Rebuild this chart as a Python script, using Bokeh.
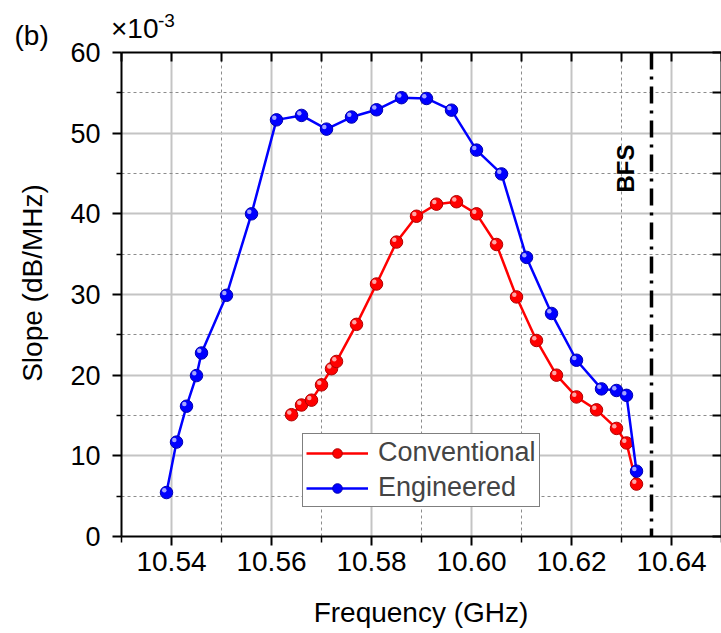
import numpy as np
from bokeh.plotting import figure
from bokeh.models import (LinearAxis, FixedTicker, Range1d, Label, Span, Legend,
                          LegendItem, Grid, NumeralTickFormatter)
from bokeh.embed import file_html
from bokeh.resources import INLINE

# ---- data (slope in units of 1e-3 dB/MHz) ----
freq_conv = [10.564, 10.566, 10.568, 10.570, 10.572, 10.573, 10.577, 10.581, 10.585,
             10.589, 10.593, 10.597, 10.601, 10.605, 10.609, 10.613, 10.617, 10.621,
             10.625, 10.629, 10.631, 10.633]
slope_conv = [15.1, 16.3, 16.9, 18.8, 20.8, 21.7, 26.3, 31.3, 36.5, 39.7, 41.2, 41.5,
              40.0, 36.2, 29.7, 24.3, 20.0, 17.3, 15.7, 13.4, 11.6, 6.5]
freq_eng = [10.539, 10.541, 10.543, 10.545, 10.546, 10.551, 10.556, 10.561, 10.566,
            10.571, 10.576, 10.581, 10.586, 10.591, 10.596, 10.601, 10.606, 10.611,
            10.616, 10.621, 10.626, 10.629, 10.631, 10.633]
slope_eng = [5.45, 11.7, 16.15, 19.95, 22.75, 29.9, 40.0, 51.65, 52.2, 50.5, 52.0, 52.9,
             54.4, 54.3, 52.85, 47.9, 44.95, 34.6, 27.65, 21.85, 18.3, 18.1, 17.5, 8.1]
bfs_freq = 10.636

x_major = [10.54, 10.56, 10.58, 10.60, 10.62, 10.64]
x_minor = [10.53, 10.55, 10.57, 10.59, 10.61, 10.63, 10.65]
y_major = [0, 10, 20, 30, 40, 50, 60]
y_minor = [5, 15, 25, 35, 45, 55]

FONT = "Liberation Sans"
X0, X1, Y0, Y1 = 10.53, 10.65, 0, 60
FW, FH = 600, 484

p = figure(width=721, height=633, output_backend="svg", toolbar_location=None,
           x_range=Range1d(X0, X1), y_range=Range1d(Y0, Y1),
           min_border_left=121, min_border_right=0, min_border_top=52,
           min_border_bottom=97, x_axis_location=None, y_axis_location=None)
p.outline_line_color = None
p.background_fill_color = "white"
p.border_fill_color = "white"

xt = FixedTicker(ticks=x_major, minor_ticks=x_minor)
yt = FixedTicker(ticks=y_major, minor_ticks=y_minor)

for dim, tk in ((0, xt), (1, yt)):
    g = Grid(dimension=dim, ticker=tk, grid_line_color="#c4c4c4", grid_line_width=2,
             minor_grid_line_color="#8c8c8c", minor_grid_line_width=1,
             minor_grid_line_dash="3 3")
    p.add_layout(g)

def base_axis(ax):
    ax.axis_line_color = "black"
    ax.axis_line_width = 2
    ax.major_tick_line_color = "black"
    ax.minor_tick_line_color = "black"
    ax.major_tick_line_width = 2
    ax.minor_tick_line_width = 1.5
    ax.major_label_text_font = FONT
    ax.major_label_text_color = "black"

xb = LinearAxis(ticker=xt, formatter=NumeralTickFormatter(format="0.00"))
base_axis(xb)
xb.major_tick_out, xb.major_tick_in = 9, 0
xb.minor_tick_out, xb.minor_tick_in = 6, 0
xb.major_label_text_font_size = "28px"
xb.major_label_standoff = 6
p.add_layout(xb, "below")

yl = LinearAxis(ticker=yt)
base_axis(yl)
yl.major_tick_out, yl.major_tick_in = 9, 0
yl.minor_tick_out, yl.minor_tick_in = 5, 0
yl.major_label_text_font_size = "27px"
yl.major_label_standoff = 12
p.add_layout(yl, "left")

# frame axes on top and right: inward ticks only, no labels
for pos, place in ((sorted(x_major + x_minor), "above"), (sorted(y_major + y_minor), "right")):
    ax = LinearAxis(ticker=FixedTicker(ticks=[], minor_ticks=pos))
    base_axis(ax)
    ax.minor_tick_line_width = 2
    ax.major_tick_out, ax.major_tick_in = 0, 0
    ax.minor_tick_out, ax.minor_tick_in = 0, 9
    ax.major_label_standoff = 0
    p.add_layout(ax, place)

# BFS marker line
p.add_layout(Span(location=bfs_freq, dimension="height", line_color="black",
                  line_width=3.5, line_dash="17 7 3 7"))

dxp = (X1 - X0) / FW
dyp = (Y1 - Y0) / FH

def series(fx, fy, color, edge, hl):
    lr = p.line(fx, fy, line_color=color, line_width=2.5)
    sr = p.scatter(fx, fy, size=12.5, fill_color=color, line_color=edge, line_width=1)
    p.scatter(np.array(fx) - 2.2 * dxp, np.array(fy) + 2.2 * dyp, size=4.5,
              fill_color=hl, fill_alpha=0.8, line_color=None)
    return lr, sr

rc = series(freq_conv, slope_conv, "#ff0000", "#b00000", "#ffd0d0")
bc = series(freq_eng, slope_eng, "#0000ff", "#0000b0", "#d0d0ff")

legend = Legend(items=[LegendItem(label="Conventional", renderers=list(rc)),
                       LegendItem(label="Engineered", renderers=list(bc))],
                location=(181, 29), padding=3, spacing=4, margin=0,
                glyph_width=62, glyph_height=24, label_height=28, label_standoff=10,
                label_text_font=FONT, label_text_font_size="27px",
                border_line_color="black", border_line_width=1.5,
                background_fill_color="white", background_fill_alpha=1)
p.add_layout(legend)

def clab(side, x, y, text, size, angle=0, align="left", baseline="alphabetic"):
    p.add_layout(Label(x=x, y=y, x_units="canvas", y_units="canvas", text=text,
                       text_font=FONT, text_font_size=size, angle=angle,
                       text_align=align, text_baseline=baseline, text_color="black"),
                 side)

# texts outside the frame (absolute canvas positions; panels chosen for spare room)
clab("above", 110.5, 28, "×10", "28px")
clab("below", 157.5, 19.5, "-3", "19px")
clab("left", 14, 34.5, "(b)", "28px")
clab("left", 31.5, 282.5, "Slope (dB/MHz)", "28px", angle=np.pi / 2, align="center")
clab("below", 420.5, 611.5, "Frequency (GHz)", "28px", align="center")

p.add_layout(Label(x=10.6307, y=45.62, text="BFS", text_font=FONT, text_font_size="24px",
                   angle=np.pi / 2, text_align="center", text_baseline="middle",
                   text_font_style="bold", text_color="black"))

open("out.html", "w").write(file_html(p, INLINE))
